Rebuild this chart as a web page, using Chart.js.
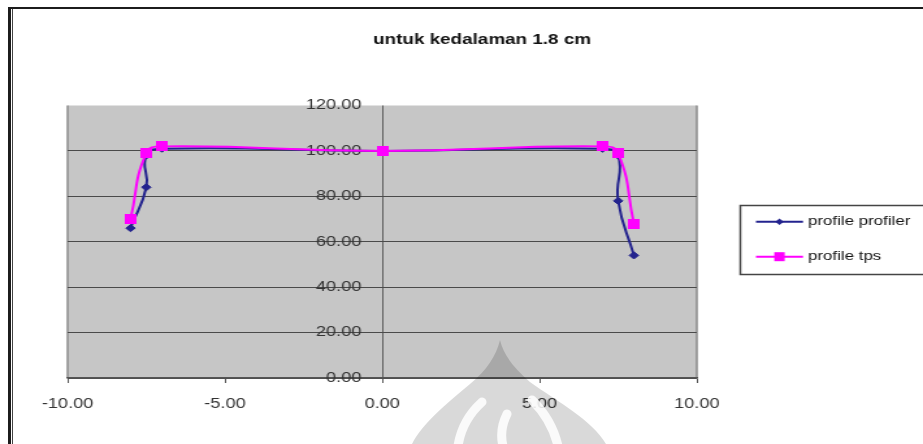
<!DOCTYPE html>
<html>
<head>
<meta charset="utf-8">
<script src="https://cdn.jsdelivr.net/npm/chart.js@4.4.1/dist/chart.umd.min.js"></script>
<style>
  html, body { margin: 0; padding: 0; background: #fff; overflow: hidden; }
  #wrap { position: relative; width: 923px; height: 444px; overflow: hidden; background: #fff; }
  #c { position: absolute; left: 0; top: 0; transform-origin: 0 0; transform: scaleX(1.3); }
  .fr { position: absolute; background: #1c1c1c; }
  #mark { position: absolute; left: 0; top: 0; pointer-events: none; }
</style>
</head>
<body>
<div id="wrap">
  <canvas id="c" width="710" height="444" style="width:710px;height:444px"></canvas>
  <div class="fr" style="left:8px;top:7px;width:915px;height:2px"></div>
  <div class="fr" style="left:8px;top:7px;width:3px;height:437px"></div>
  <div class="fr" style="left:12px;top:9px;width:1px;height:435px;background:#444"></div>
  <svg id="mark" width="923" height="444" viewBox="0 0 923 444">
    <g fill="#000" fill-opacity="0.15">
      <path d="M500 340 C504 356 514 368 530 382 C558 402 592 420 606 444 L412 444 C422 424 446 404 470 384 C487 370 496 356 500 340 Z"/>
    </g>
    <g fill="none" stroke="#fff" stroke-opacity="0.85" stroke-width="9" stroke-linecap="round">
      <path d="M482 402 Q462 420 458 446"/>
      <path d="M532 400 Q552 420 558 446"/>
      <path d="M507 414 Q499 430 503 446"/>
    </g>
  </svg>
</div>
<script>
// Series read along the depth profile (x in cm, y in %)
const profilerX = [-8, -7.5, -7.5, -7, 0, 7, 7.5, 7.5, 8];
const profilerY = [66, 84, 98, 101, 100, 101, 98, 78, 54];
const tpsX = [-8, -7.5, -7, 0, 7, 7.5, 8];
const tpsY = [70, 99, 102, 100, 102, 99, 68];
const seriesNames = ['profile profiler', 'profile tps'];
const chartTitle = 'untuk kedalaman 1.8 cm';
const xTicks = [-10, -5, 0, 5, 10];
const yTicks = [0, 20, 40, 60, 80, 100, 120];

const FONT = 'Liberation Sans, Arial, sans-serif';
const BLUE = '#23238e';
const PINK = '#ff00ff';

// square marker, slightly taller than wide before the horizontal stretch
const sq = document.createElement('canvas');
sq.width = 9; sq.height = 10;
(function () { const g = sq.getContext('2d'); g.fillStyle = PINK; g.fillRect(0, 0, 9, 10); })();

const toPts = (xs, ys) => xs.map((x, i) => ({ x: x, y: ys[i] }));

const plotBackground = {
  id: 'plotBackground',
  beforeDraw(chart) {
    const { ctx, chartArea: a } = chart;
    ctx.save();
    ctx.fillStyle = '#c6c6c6';
    ctx.fillRect(a.left, a.top, a.right - a.left, a.bottom - a.top);
    ctx.strokeStyle = '#8a8a8a';
    ctx.lineWidth = 1.5;
    ctx.beginPath();
    ctx.moveTo(a.left, a.top); ctx.lineTo(a.left, a.bottom);
    ctx.moveTo(a.right, a.top); ctx.lineTo(a.right, a.bottom);
    ctx.stroke();
    ctx.restore();
  }
};

const titleAndLegend = {
  id: 'titleAndLegend',
  afterDraw(chart) {
    const { ctx } = chart;
    ctx.save();
    ctx.fillStyle = '#111';
    ctx.font = 'bold 14.5px ' + FONT;
    ctx.textAlign = 'center';
    ctx.textBaseline = 'middle';
    ctx.fillText(chartTitle, 370.8, 40);

    // legend box
    ctx.strokeStyle = '#444';
    ctx.lineWidth = 1.5;
    ctx.strokeRect(569.5, 205.5, 200, 69);
    const rows = [221.7, 256.7];
    chart.data.datasets.forEach((ds, i) => {
      const y = rows[i];
      ctx.strokeStyle = ds.borderColor;
      ctx.lineWidth = 2;
      ctx.beginPath();
      ctx.moveTo(581.5, y); ctx.lineTo(617.7, y);
      ctx.stroke();
      ctx.fillStyle = ds.borderColor;
      const cx = 599.6;
      if (i === 0) {
        ctx.beginPath();
        ctx.moveTo(cx - 3.2, y); ctx.lineTo(cx, y - 3.2);
        ctx.lineTo(cx + 3.2, y); ctx.lineTo(cx, y + 3.2);
        ctx.closePath(); ctx.fill();
      } else {
        ctx.fillRect(cx - 4, y - 4.5, 8, 9);
      }
      ctx.fillStyle = '#111';
      ctx.font = '13px ' + FONT;
      ctx.textAlign = 'left';
      ctx.textBaseline = 'middle';
      ctx.fillText(ds.label, 621.5, y);
    });
    ctx.restore();
  }
};

new Chart(document.getElementById('c'), {
  type: 'scatter',
  data: {
    datasets: [
      {
        label: seriesNames[0],
        data: toPts(profilerX, profilerY),
        showLine: true,
        borderColor: BLUE,
        backgroundColor: BLUE,
        borderWidth: 2,
        tension: 0.5,
        pointStyle: 'rectRot',
        pointRadius: 3.6,
        pointBorderWidth: 1,
        order: 1
      },
      {
        label: seriesNames[1],
        data: toPts(tpsX, tpsY),
        showLine: true,
        borderColor: PINK,
        backgroundColor: PINK,
        borderWidth: 2,
        tension: 0.5,
        pointStyle: sq,
        pointRadius: 5,
        order: 0
      }
    ]
  },
  options: {
    responsive: false,
    animation: false,
    layout: { padding: { left: 52, right: 174, top: 105.5, bottom: 18.2 } },
    plugins: { legend: { display: false }, title: { display: false }, tooltip: { enabled: false } },
    scales: {
      x: {
        type: 'linear', min: -10, max: 10, position: 'bottom',
        afterBuildTicks: s => { s.ticks = xTicks.map(v => ({ value: v })); },
        ticks: { padding: 13, color: '#333', font: { family: FONT, size: 14 }, callback: v => Number(v).toFixed(2) },
        grid: {
          drawOnChartArea: true, drawTicks: true, tickLength: 5, lineWidth: 1,
          color: c => (c.tick && c.tick.value === 0) ? '#5a5a5a' : 'rgba(0,0,0,0)',
          tickColor: '#555'
        },
        border: { display: true, color: '#555', width: 1.5 }
      },
      y: {
        type: 'linear', min: 0, max: 120, position: { x: -0.66 },
        afterBuildTicks: s => { s.ticks = yTicks.map(v => ({ value: v })); },
        ticks: { padding: 0, color: '#333', font: { family: FONT, size: 14 }, callback: v => Number(v).toFixed(2) },
        grid: {
          drawTicks: false, lineWidth: 1,
          color: c => (c.tick && c.tick.value === 120) ? 'rgba(0,0,0,0)' : '#4a4a4a'
        },
        border: { display: false }
      }
    }
  },
  plugins: [plotBackground, titleAndLegend]
});
</script>
</body>
</html>
